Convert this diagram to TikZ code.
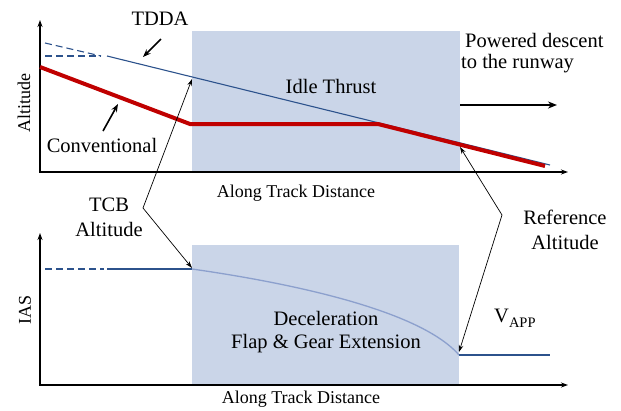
\documentclass[tikz,border=0pt]{standalone}
\usepackage{fontspec}
\setmainfont{Liberation Serif}
\usetikzlibrary{arrows.meta}
\definecolor{shadebox}{RGB}{202,213,232}
\definecolor{dblue}{RGB}{44,82,140}
\definecolor{lblue}{RGB}{140,160,205}
\definecolor{dred}{RGB}{192,0,0}
\tikzset{
  axisline/.style={line width=1.6pt,{Stealth[length=7pt,width=5pt]}-{Stealth[length=7pt,width=5pt]}},
  lbl/.style={inner sep=0pt,font=\fontsize{20.5}{25}\selectfont,align=center},
  axlbl/.style={inner sep=0pt,font=\fontsize{18}{22}\selectfont},
  pointer/.style={line width=1.6pt,-{Stealth[length=8pt,width=6pt]}},
  thinptr/.style={line width=0.7pt,-{Stealth[length=7pt,width=4.5pt]}},
  dashblue/.style={dblue,line width=1.1pt,dash pattern=on 7pt off 4pt},
  solidblue/.style={dblue,line width=1.1pt},
}
\begin{document}
\begin{tikzpicture}[x=1pt,y=-1pt]
\useasboundingbox (0,0) rectangle (621,410);
% shaded regions
\fill[shadebox] (192,31) rectangle (460,172);
\fill[shadebox] (192,245) rectangle (459,385);
% ---------- top panel ----------
\draw[axisline] (40,20) |- (568,172);
\draw[dashblue] (45,43) -- (101,56);
\draw[dashblue] (45,56) -- (101,56);
\coordinate (tdS) at (107,56);
\coordinate (tdE) at (550,165);
\draw[solidblue] (tdS) -- (tdE);
\coordinate (cvA) at (40,67);
\coordinate (cvB) at (190,124);
\coordinate (cvC) at (378,124);
\coordinate (cvD) at (545,166);
\draw[dred,line width=4pt] (cvA) -- (cvB) -- (cvC) -- (cvD);
\node[lbl] (tdda) at (160,19) {TDDA};
\node[lbl] (conv) at (102,145) {Conventional};
\node[axlbl,rotate=90] (alt) at (24,103) {Altitude};
\node[axlbl] (atd1) at (296,193) {Along Track Distance};
\node[lbl] (idle) at (331,86) {Idle Thrust};
\node[lbl,align=left,anchor=west] (pow) at (461,53) {\hspace{4pt}Powered descent\\[-4pt]to the runway};
\coordinate (tddaA) at (161,39);
\coordinate (tddaB) at (143,57);
\draw[pointer] (tddaA) -- (tddaB);
\coordinate (convA) at (103,131);
\coordinate (convB) at (118,104);
\draw[pointer] (convA) -- (convB);
\coordinate (powA) at (460,105);
\coordinate (powB) at (557,105);
\draw[line width=2pt,-{Stealth[length=9pt,width=7pt]}] (powA) -- (powB);
% ---------- bottom panel ----------
\draw[axisline] (40,233) |- (568,385);
\draw[dashblue] (45,269) -- (104,269);
\coordinate (iasS) at (107,269);
\coordinate (iasK) at (192,269);
\coordinate (iasE) at (459,355);
\coordinate (vappE) at (550,355);
\draw[solidblue] (iasS) -- (iasK);
\draw[lblue,line width=1.3pt] (iasK) .. controls (290,283) and (420,310) .. (iasE);
\draw[solidblue,line width=1.3pt] (iasE) -- (vappE);
\node[axlbl,rotate=90] (ias) at (25,310) {IAS};
\node[axlbl] (atd2) at (301,399) {Along Track Distance};
\node[lbl,font=\fontsize{20.5}{23}\selectfont] (decel) at (326,332) {Deceleration\\Flap \& Gear Extension};
\node[lbl,anchor=west] (vapp) at (494,318) {V\raisebox{-5pt}{\fontsize{14.5}{15}\selectfont APP}};
% ---------- callouts ----------
\node[lbl] (tcb) at (109,217) {TCB\\Altitude};
\node[lbl] (ref) at (565,230) {Reference\\Altitude};
\coordinate (tcbV) at (143,208);
\coordinate (tcbT) at (192,79);
\coordinate (tcbB) at (192,268);
\draw[thinptr] (tcbV) -- (tcbT);
\draw[thinptr] (tcbV) -- (tcbB);
\coordinate (refV) at (502,215);
\coordinate (refT) at (460,147);
\coordinate (refB) at (459,352);
\draw[thinptr] (refV) -- (refT);
\draw[thinptr] (refV) -- (refB);
\end{tikzpicture}
\end{document}
